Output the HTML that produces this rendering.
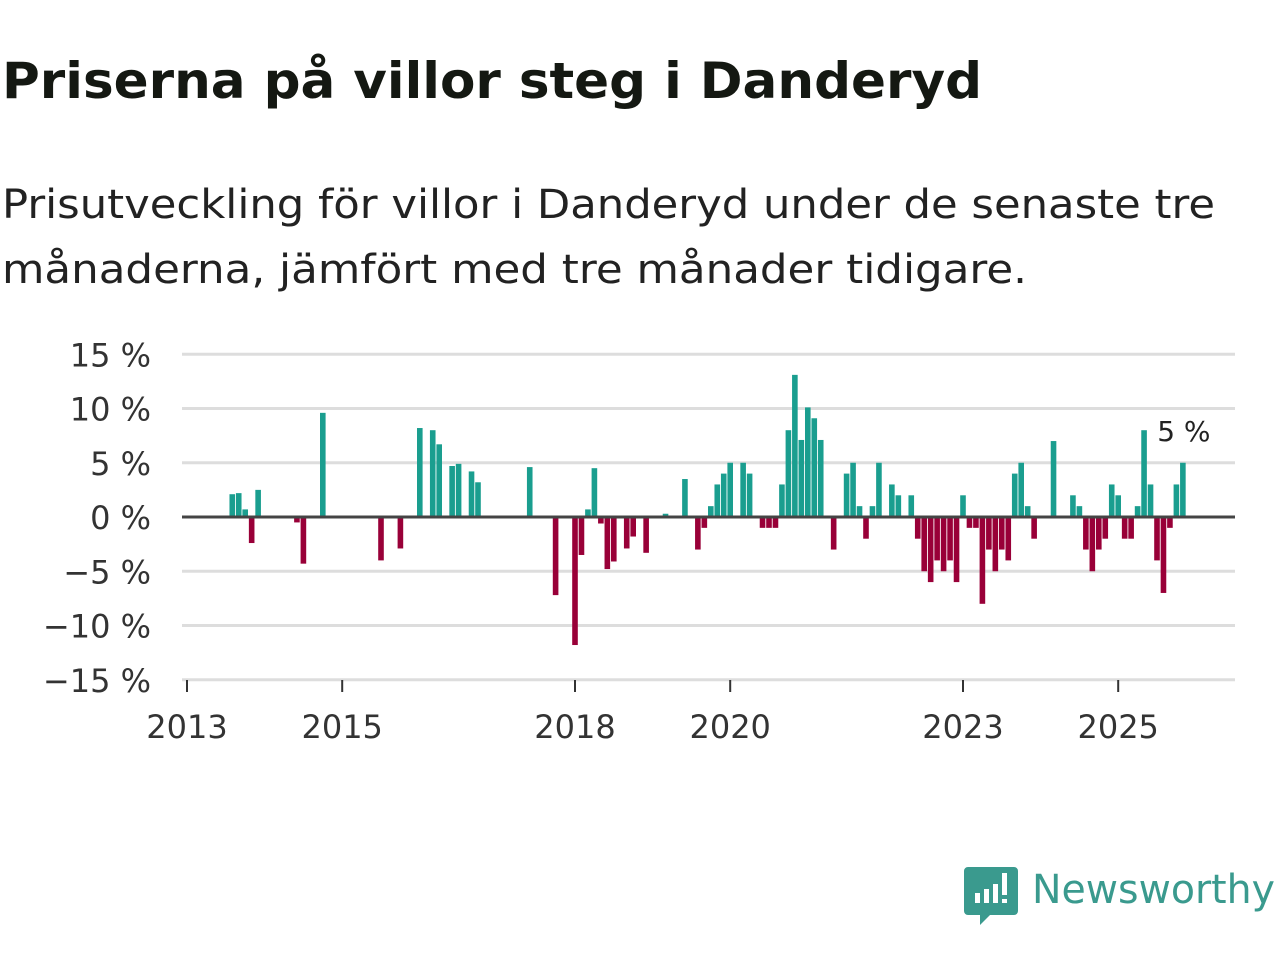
<!DOCTYPE html>
<html><head><meta charset="utf-8"><style>
body{margin:0;background:#fff;width:1280px;height:960px;overflow:hidden;font-family:"DejaVu Sans","Liberation Sans",sans-serif}
svg{position:absolute;left:0;top:0;font-family:"DejaVu Sans","Liberation Sans",sans-serif}
</style></head><body>
<svg id="c" width="1280" height="960" xmlns="http://www.w3.org/2000/svg">
<text x="2" y="98" font-size="50" font-weight="bold" fill="#141812" textLength="980" lengthAdjust="spacingAndGlyphs">Priserna på villor steg i Danderyd</text>
<text x="2" y="218" font-size="40" fill="#222" textLength="1213" lengthAdjust="spacingAndGlyphs">Prisutveckling för villor i Danderyd under de senaste tre</text>
<text x="2" y="283" font-size="40" fill="#222" textLength="1025" lengthAdjust="spacingAndGlyphs">månaderna, jämfört med tre månader tidigare.</text>
<g id="grid"></g><g id="bars"></g><g id="axes"></g>
<g>
<path d="M968 867 h46 a4 4 0 0 1 4 4 v40 a4 4 0 0 1 -4 4 h-24 l-10 10 v-10 h-12 a4 4 0 0 1 -4 -4 v-40 a4 4 0 0 1 4 -4z" fill="#3a9a8e"/>
<rect x="975" y="893" width="5" height="10" fill="#fff"/><rect x="984" y="889" width="5" height="14" fill="#fff"/><rect x="993" y="884" width="5" height="19" fill="#fff"/><rect x="1002" y="873" width="5" height="22" fill="#fff"/><rect x="1002" y="899" width="5" height="4" fill="#fff"/>
<text x="1032" y="903" font-size="40" fill="#3a9a8e" textLength="243" lengthAdjust="spacingAndGlyphs">Newsworthy</text>
</g>
</svg>
<script>
const yTicks=[15,10,5,0,-5,-10,-15];
const yTickLabels=["15 %","10 %","5 %","0 %","\u22125 %","\u221210 %","\u221215 %"];
const xTickYears=[2013,2015,2018,2020,2023,2025];
const monthIndex=[7,8,9,10,11,17,18,21,30,33,36,38,39,41,42,44,45,53,57,60,61,62,63,64,65,66,68,69,71,74,77,79,80,81,82,83,84,86,87,89,90,91,92,93,94,95,96,97,98,100,102,103,104,105,106,107,109,110,112,113,114,115,116,117,118,119,120,121,122,123,124,125,126,127,128,129,130,131,134,137,138,139,140,141,142,143,144,145,146,147,148,149,150,151,152,153,154];
const values=[2.1,2.2,0.7,-2.4,2.5,-0.5,-4.3,9.6,-4.0,-2.9,8.2,8.0,6.7,4.7,4.9,4.2,3.2,4.6,-7.2,-11.8,-3.5,0.7,4.5,-0.6,-4.8,-4.1,-2.9,-1.8,-3.3,0.3,3.5,-3.0,-1.0,1.0,3.0,4.0,5.0,5.0,4.0,-1,-1,-1,3.0,8.0,13.1,7.1,10.1,9.1,7.1,-3.0,4.0,5.0,1.0,-2.0,1.0,5.0,3.0,2.0,2.0,-2,-5,-6,-4,-5,-4,-6,2,-1,-1,-8,-3,-5,-3,-4,4,5,1,-2,7,2,1,-3,-5,-3,-2,3,2,-2,-2,1,8,3,-4,-7,-1,3,5];
const NS="http://www.w3.org/2000/svg";
const X0=187,X1=1235,YR=77.6,MW=YR/12,Y0=517,PP=10.85;
const xs=i=>X0+i*MW, ys=v=>Y0-v*PP, xYear=y=>X0+(y-2013)*YR;
function mk(t,a,p){const e=document.createElementNS(NS,t);for(const k in a)e.setAttribute(k,a[k]);p.appendChild(e);return e;}
const grid=document.getElementById('grid'),bars=document.getElementById('bars'),axes=document.getElementById('axes');
yTicks.forEach((v,i)=>{
 if(v!==0){const l=mk('line',{x1:X0-5,x2:X1,y1:ys(v),y2:ys(v),stroke:'#ddd','stroke-width':3},grid);
 
 }
 const t=mk('text',{x:151,y:ys(v)+12,'font-size':32,'text-anchor':'end',fill:'#333'},axes);
 t.textContent=yTickLabels[i];
 
 
});
monthIndex.forEach((m,i)=>{
 const v=values[i];const x=xs(m);
 const r=mk('rect',{x:x-2.8,width:5.6,y:v>=0?ys(v):Y0,height:Math.abs(v)*PP,fill:v>=0?'#1a9e8f':'#990038'},bars);
 
 
});
const zl=mk('line',{x1:X0-5,x2:X1,y1:Y0,y2:Y0,stroke:'#444','stroke-width':3},axes);


xTickYears.forEach(y=>{
 const tk=mk('line',{x1:xYear(y),x2:xYear(y),y1:680,y2:692,stroke:'#333','stroke-width':2},axes);
 
 
 const t=mk('text',{x:xYear(y),y:738,'font-size':32,'text-anchor':'middle',fill:'#333'},axes);
 t.textContent=y;
 
 
});
const li=values.length-1;
const lab=mk('text',{x:xs(monthIndex[li])+1,y:ys(values[li])-22,'font-size':28,'text-anchor':'middle',fill:'#222'},axes);
lab.textContent=values[li]+' %';


</script>
</body></html>
